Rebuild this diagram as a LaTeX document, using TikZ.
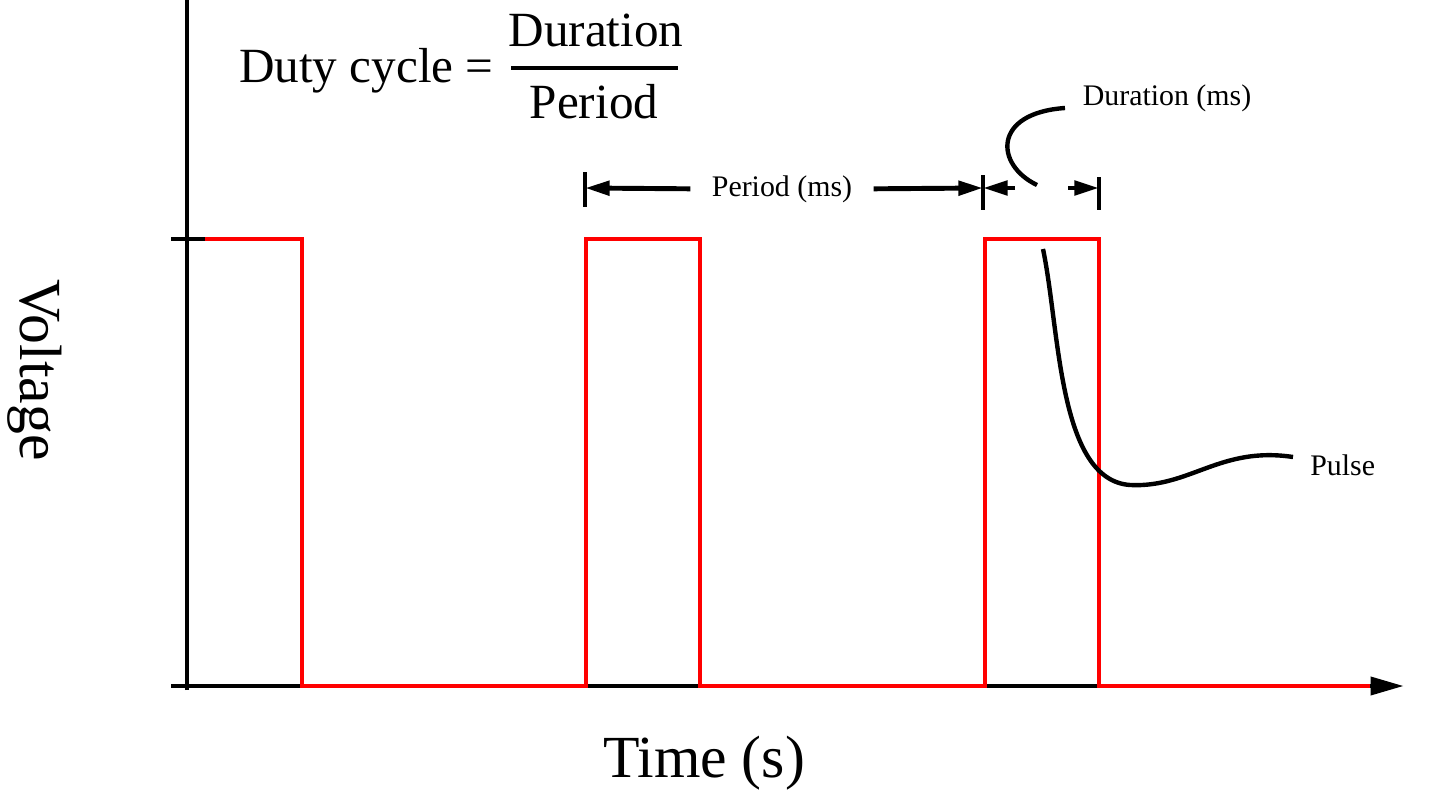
\documentclass[tikz,border=0pt]{standalone}
\usepackage{fontspec}
\setmainfont{Liberation Serif}
\usetikzlibrary{arrows.meta,positioning,calc}

\begin{document}
\begin{tikzpicture}[x=0.02cm,y=-0.02cm,line join=miter,
  axisline/.style={line width=2.8pt},
  signal/.style={red,line width=2.8pt},
  dimline/.style={line width=2.8pt,-{Triangle[length=14pt,width=8pt]}},
  leader/.style={line width=2.5pt},
  small/.style={font=\fontsize{17}{20}\selectfont,inner sep=0pt},
  frac/.style={font=\fontsize{28}{34}\selectfont,inner sep=0pt},
  big/.style={font=\fontsize{34}{40}\selectfont,inner sep=0pt}]
\useasboundingbox (0,0) rectangle (1431,801);

% axes
\coordinate (ytop) at (187,0);
\coordinate (ybot) at (187,690);
\coordinate (xstart) at (171,686);
\coordinate (xend) at (1404,686);
\draw [axisline] (ybot) -- (ytop);
\draw [axisline,-{Triangle[length=19pt,width=10pt]}] (xstart) -- (xend);

% pulse train
\draw [signal] (187,239) -- (302,239) -- (302,686) -- (586,686) -- (586,239)
  -- (700,239) -- (700,686) -- (985,686) -- (985,239) -- (1099,239)
  -- (1099,686) -- (1370,686);
\draw [axisline] (171,239) -- (205,239);

% labels
\node [big,anchor=base] (xlbl) at (704,777) {Time (s)};
\node [big,rotate=-90,anchor=base] (ylbl) at (20,370) {Voltage};

% duty cycle
\node [frac,anchor=base east] (duty) at (494,82) {Duty cycle =};
\node [frac,anchor=base] (num) at (596,47) {Duration};
\node [frac,anchor=base] (den) at (594,118) {Period};
\coordinate (barL) at (511,68);
\coordinate (barR) at (678,68);
\draw [line width=2.8pt] (barL) -- (barR);

% period
\node [small,anchor=base] (period) at (782,196) {Period (ms)};
\coordinate (pL) at (585,188);
\coordinate (pR) at (983,188);
\draw [axisline] (585,172) -- (585,207);
\draw [axisline] (983,175) -- (983,210);
\draw [dimline] ([xshift=-12pt]period.west) -- (pL);
\draw [dimline] ([xshift=12pt]period.east) -- (pR);

% duration
\coordinate (dL) at (983,188);
\coordinate (dR) at (1099,188);
\draw [axisline] (1099,177) -- (1099,210);
\draw [dimline] (1015,188) -- (dL);
\draw [dimline] (1068,188) -- (dR);
\node [small,anchor=base] (durlbl) at (1167,105) {Duration (ms)};
\coordinate (dtip) at (1037,185);
\coordinate (dend) at (1065,108);
\draw [leader] (dtip) .. controls (995,165) and (992,113) .. (dend);

% pulse
\node [small,anchor=base west] (pulse) at (1310,475) {Pulse};
\coordinate (ptip) at (1043,249);
\coordinate (pbot) at (1130,485);
\coordinate (pend) at (1293,457);
\draw [leader] (ptip) .. controls (1060,330) and (1058,480) .. (pbot)
  .. controls (1190,488) and (1220,446) .. (pend);
\end{tikzpicture}
\end{document}
